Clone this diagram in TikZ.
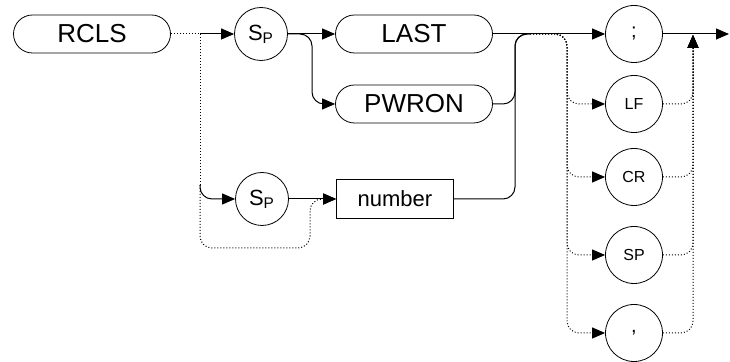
\documentclass[tikz,border=0pt]{standalone}
\usepackage{fontspec}
\setmainfont{Liberation Sans}
\usetikzlibrary{arrows.meta}

\begin{document}
\begin{tikzpicture}[
  x=0.5pt, y=-0.5pt,
  kw/.style={draw, rounded corners=9.5pt, minimum width=78.5pt, minimum height=19pt, inner sep=0pt, font=\fontsize{13}{15}\selectfont},
  chr/.style={draw, circle, minimum size=28.5pt, inner sep=0pt, font=\fontsize{8}{10}\selectfont},
  spc/.style={draw, circle, minimum size=26.5pt, inner sep=0pt, font=\fontsize{11}{13}\selectfont},
  num/.style={draw, minimum width=58.5pt, minimum height=19.5pt, inner sep=0pt, font=\fontsize{11}{13}\selectfont},
  conn/.style={-{Triangle[length=6.5pt, width=5.5pt]}, line width=0.5pt, rounded corners=6pt},
  opt/.style={conn, densely dotted},
]
  \useasboundingbox (0,0) rectangle (730,362);

  % Command
  \node[kw] (rcls) at (92,34) {RCLS};
  \node[spc] (sp1) at (261,34) {S\textsubscript{P}};
  \node[spc] (sp2) at (262,199) {S\textsubscript{P}};

  % Parameters
  \node[kw] (last) at (414,34) {LAST};
  \node[kw] (pwron) at (414,104) {PWRON};
  \node[num] (number) at (395,199) {number};

  % Terminators
  \node[chr, font=\fontsize{10}{12}\selectfont] (semi) at (634,34) {;};
  \node[chr] (lf) at (634,104) {LF};
  \node[chr] (cr) at (634,177) {CR};
  \node[chr] (space) at (634,255) {SP};
  \node[chr, font=\fontsize{10}{12}\selectfont] (comma) at (634,333) {,};

  \coordinate (fork) at (200,34);
  \coordinate (join) at (530,34);
  \coordinate (out) at (729,34);

  % Command deps
  \draw[opt, -] (rcls.east) -- (fork);
  \draw[conn] (fork) -- (sp1.west);
  \draw[opt, -] (fork) -- (200,185);
  \draw[conn] (200,185) -- (200,199) -- (sp2.west);
  \draw[opt] (200,185) -- (200,248) -- (310,248) -- (310,199) -- (number.west);

  % Parameter deps
  \draw[conn] (sp1.east) -- (last.west);
  \draw[conn] (sp1.east) -- (312,34) -- (312,104) -- (pwron.west);
  \draw[conn] (sp2.east) -- (number.west);
  \draw[conn] (last.east) -- (semi.west);
  \draw[conn, -] (pwron.east) -- (515,104) -- (515,34) -- (join);
  \draw[conn, -] (number.east) -- (515,199) -- (515,34) -- (join);

  % Terminator deps
  \foreach \t/\y in {lf/104, cr/177, space/255, comma/333} {
    \draw[opt] (join) -- (567,34) -- (567,\y) -- (\t.west);
    \draw[opt] (\t.east) -- (693,\y) -- (693,35);
  }
  \draw[conn] (semi.east) -- (out);
\end{tikzpicture}
\end{document}
